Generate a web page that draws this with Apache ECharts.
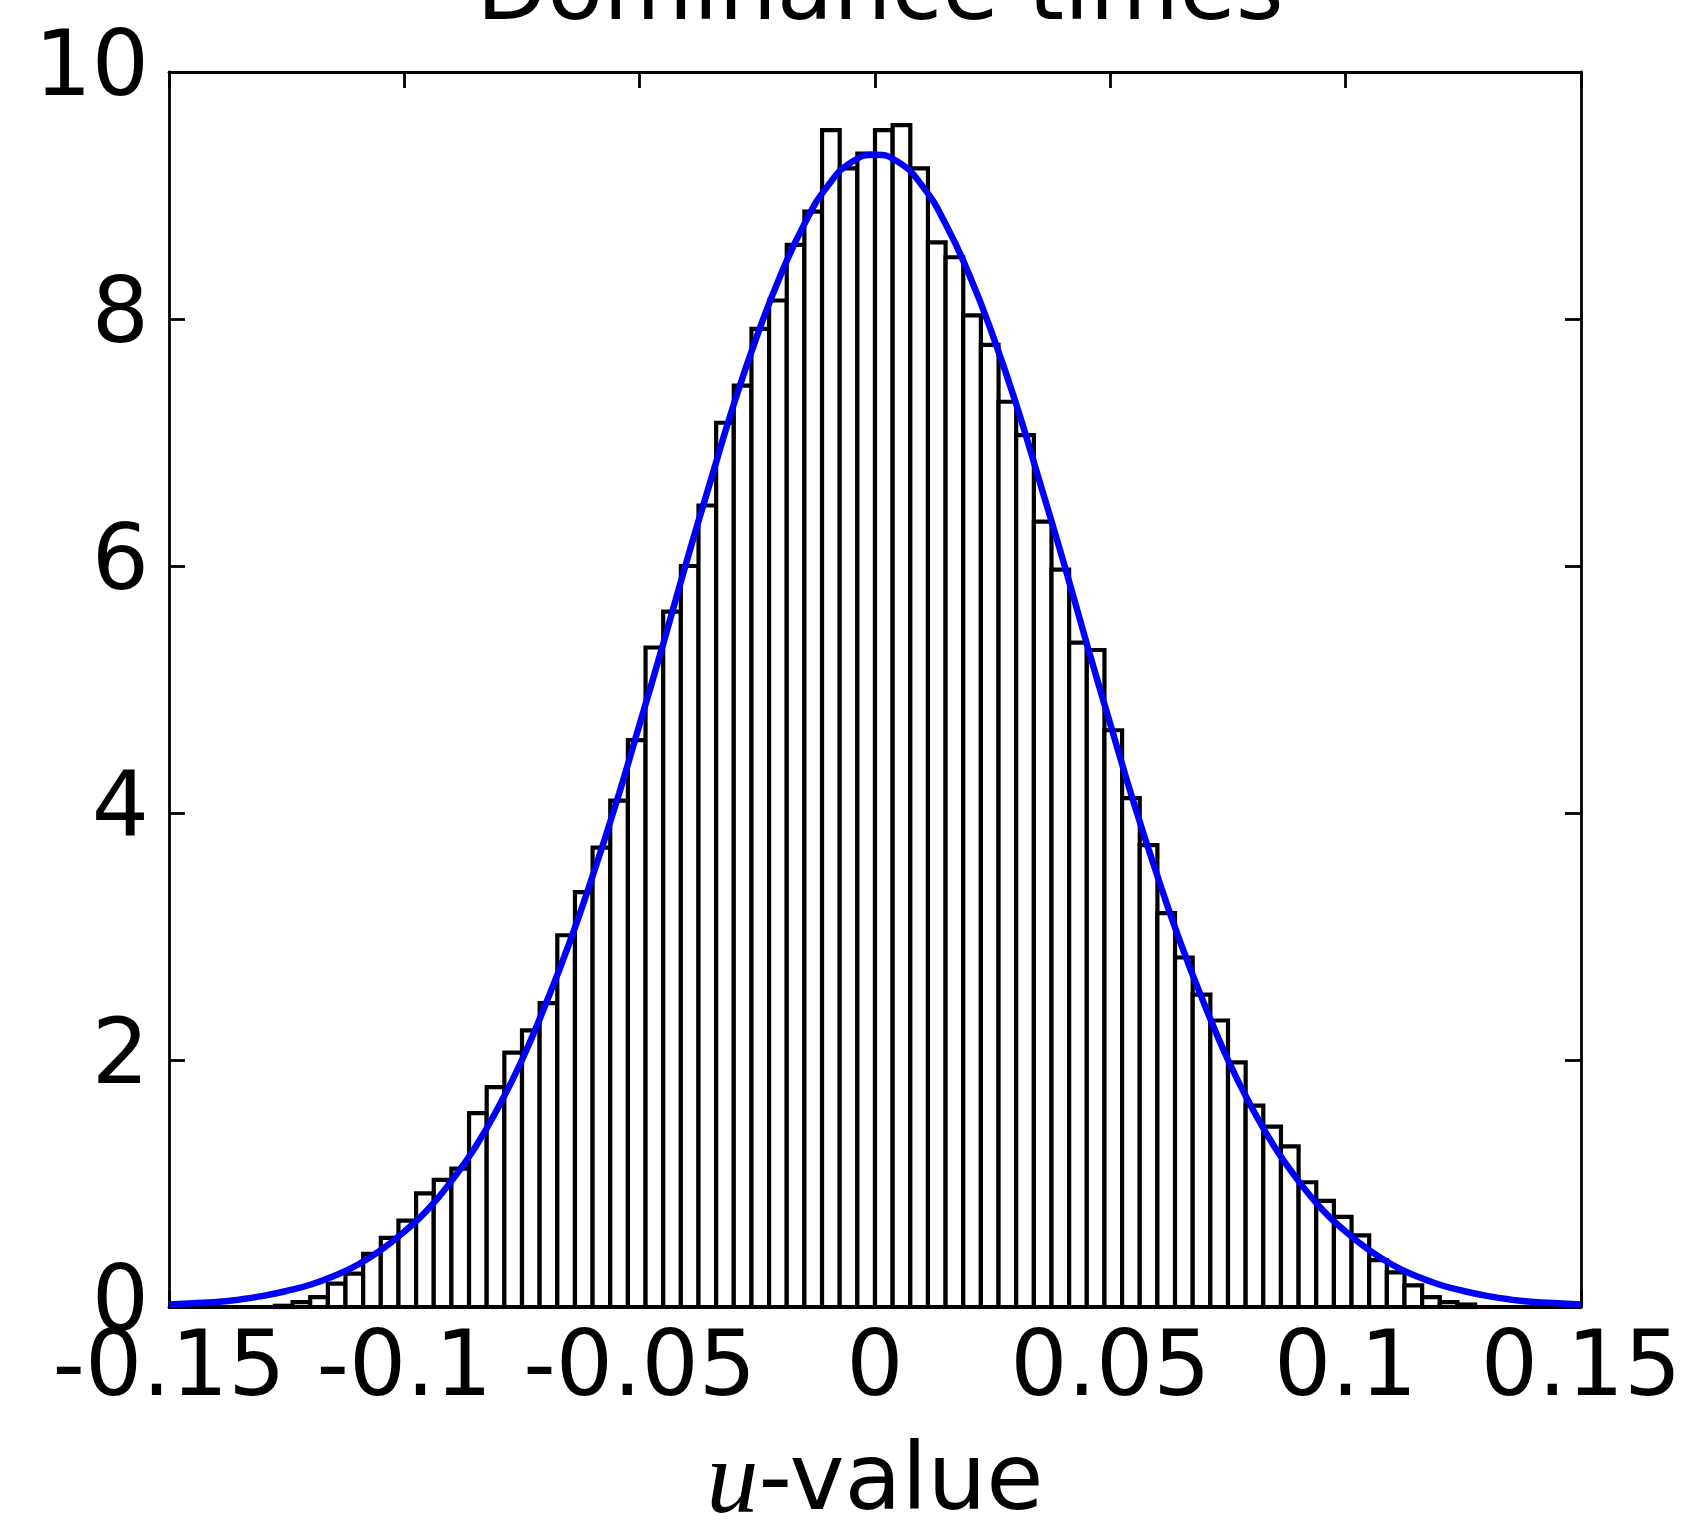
<!DOCTYPE html>
<html>
<head>
<meta charset="utf-8">
<script src="https://cdn.jsdelivr.net/npm/echarts@6/dist/echarts.min.js"></script>
<style>
html, body { margin: 0; padding: 0; background: #ffffff; }
#chart { width: 1682px; height: 1520px; }
</style>
</head>
<body>
<div id="chart"></div>
<script>
// Histogram of u-values: 80 equal bins over [-0.15, 0.15], normalised as a density
const binStart = -0.15;
const binWidth = 0.00375;
const density = [
  0, 0, 0, 0, 0, 0, 0.01, 0.04, 0.08, 0.19,
  0.27, 0.43, 0.56, 0.70, 0.92, 1.03, 1.12, 1.57, 1.78, 2.06,
  2.24, 2.46, 3.01, 3.36, 3.72, 4.10, 4.59, 5.34, 5.63, 6.00,
  6.49, 7.16, 7.46, 7.92, 8.15, 8.60, 8.87, 9.53, 9.22, 9.34,
  9.53, 9.57, 9.22, 8.62, 8.50, 8.03, 7.79, 7.33, 7.06, 6.36,
  5.97, 5.38, 5.32, 4.67, 4.12, 3.74, 3.19, 2.83, 2.53, 2.32,
  1.98, 1.63, 1.46, 1.30, 1.01, 0.86, 0.73, 0.58, 0.38, 0.28,
  0.175, 0.08, 0.04, 0.02, 0, 0, 0, 0, 0, 0
];

// Fitted normal density, sampled along u
const curveU = [
  -0.150, -0.145, -0.140, -0.135, -0.130, -0.125, -0.120, -0.115, -0.110, -0.105,
  -0.100, -0.095, -0.090, -0.085, -0.080, -0.075, -0.070, -0.065, -0.060, -0.055,
  -0.050, -0.045, -0.040, -0.035, -0.030, -0.025, -0.020, -0.015, -0.010, -0.005,
  0,
  0.005, 0.010, 0.015, 0.020, 0.025, 0.030, 0.035, 0.040, 0.045, 0.050,
  0.055, 0.060, 0.065, 0.070, 0.075, 0.080, 0.085, 0.090, 0.095, 0.100,
  0.105, 0.110, 0.115, 0.120, 0.125, 0.130, 0.135, 0.140, 0.145, 0.150
];
const curveDensity = [
  0.02, 0.03, 0.04, 0.06, 0.09, 0.13, 0.18, 0.25, 0.34, 0.46,
  0.61, 0.79, 1.02, 1.29, 1.62, 2.00, 2.45, 2.94, 3.49, 4.08,
  4.72, 5.37, 6.04, 6.68, 7.31, 7.87, 8.36, 8.77, 9.08, 9.27,
  9.33,
  9.27, 9.08, 8.77, 8.36, 7.87, 7.31, 6.68, 6.04, 5.37, 4.72,
  4.08, 3.49, 2.94, 2.45, 2.00, 1.62, 1.29, 1.02, 0.79, 0.61,
  0.46, 0.34, 0.25, 0.18, 0.13, 0.09, 0.06, 0.04, 0.03, 0.02
];

// Axis ticks
const xTickValues = [-0.15, -0.1, -0.05, 0, 0.05, 0.1, 0.15];
const xTickLabels = ['-0.15', '-0.1', '-0.05', '0', '0.05', '0.1', '0.15'];
const yTickValues = [0, 2, 4, 6, 8, 10];
const yTickLabels = ['0', '2', '4', '6', '8', '10'];

const FONT = 'DejaVu Sans';
const INK = '#000000';
const TICK_FONT_SIZE = 90;

function labelFor(values, labels, v) {
  for (let i = 0; i < values.length; i++) {
    if (Math.abs(values[i] - v) < 1e-9) return labels[i];
  }
  return '';
}

const histData = density.map((h, i) => [binStart + i * binWidth, binStart + (i + 1) * binWidth, h]);
const curveData = curveU.map((u, i) => [u, curveDensity[i]]);

const tickStyle = { show: true, inside: true, length: 16, lineStyle: { color: INK, width: 2.8 } };
const lineStyle = { show: true, onZero: false, lineStyle: { color: INK, width: 2.8 } };

const xBase = {
  type: 'value', min: -0.15, max: 0.15, interval: 0.05,
  splitLine: { show: false }, axisLine: lineStyle, axisTick: tickStyle
};
const yBase = {
  type: 'value', min: 0, max: 10, interval: 2,
  splitLine: { show: false }, axisLine: lineStyle, axisTick: tickStyle
};

const chart = echarts.init(document.getElementById('chart'), null, { renderer: 'canvas' });
chart.setOption({
  backgroundColor: '#ffffff',
  animation: false,
  title: {
    text: 'Dominance times',
    left: 875,
    textAlign: 'center',
    top: -56,
    textStyle: { fontFamily: FONT, fontSize: 92, fontWeight: 'normal', color: INK }
  },
  grid: {
    left: 169, right: 101, top: 72, bottom: 213,
    containLabel: false,
    outerBoundsMode: 'none'
  },
  xAxis: [
    Object.assign({}, xBase, {
      position: 'bottom',
      name: '{u|u}{t|-value}',
      nameLocation: 'middle',
      nameGap: 126,
      nameTextStyle: {
        rich: {
          u: { fontFamily: 'Liberation Serif', fontStyle: 'italic', fontSize: 104, color: INK },
          t: { fontFamily: FONT, fontSize: 93, color: INK }
        }
      },
      axisLabel: {
        show: true, interval: 0, margin: 20, showMinLabel: true, showMaxLabel: true,
        fontFamily: FONT, fontSize: TICK_FONT_SIZE, color: INK,
        formatter: v => labelFor(xTickValues, xTickLabels, v)
      }
    }),
    Object.assign({}, xBase, { position: 'top', axisLabel: { show: false } })
  ],
  yAxis: [
    Object.assign({}, yBase, {
      position: 'left',
      axisLabel: {
        show: true, margin: 20, showMinLabel: true, showMaxLabel: true,
        fontFamily: FONT, fontSize: TICK_FONT_SIZE, color: INK,
        padding: [8, 0, 0, 0],
        formatter: v => labelFor(yTickValues, yTickLabels, v)
      }
    }),
    Object.assign({}, yBase, { position: 'right', axisLabel: { show: false } })
  ],
  series: [
    {
      type: 'custom',
      xAxisIndex: 0,
      yAxisIndex: 0,
      data: histData,
      encode: { x: [0, 1], y: 2 },
      renderItem: function (params, api) {
        const topLeft = api.coord([api.value(0), api.value(2)]);
        const bottomRight = api.coord([api.value(1), 0]);
        return {
          type: 'rect',
          shape: {
            x: topLeft[0], y: topLeft[1],
            width: bottomRight[0] - topLeft[0],
            height: bottomRight[1] - topLeft[1]
          },
          style: { fill: '#ffffff', stroke: INK, lineWidth: 4.2 }
        };
      },
      z: 2
    },
    {
      type: 'line',
      xAxisIndex: 0,
      yAxisIndex: 0,
      data: curveData,
      smooth: true,
      symbol: 'none',
      lineStyle: { color: '#0000ff', width: 6.5 },
      z: 3
    }
  ]
});
</script>
</body>
</html>
